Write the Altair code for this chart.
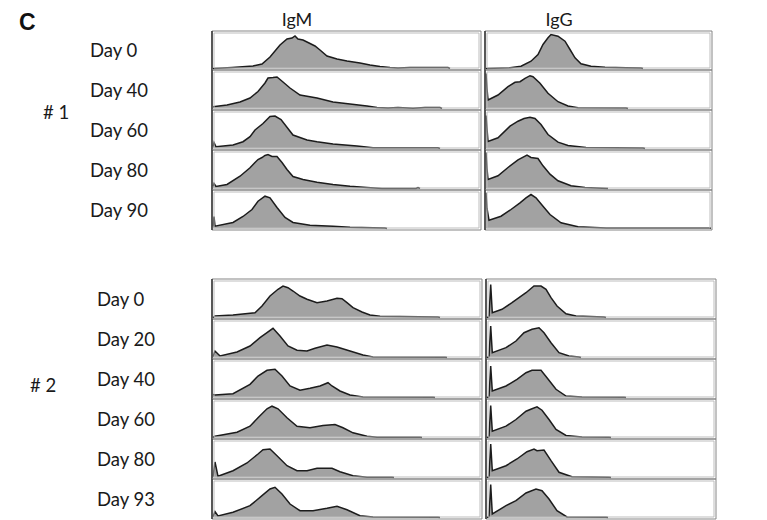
import altair as alt
import pandas as pd

# ---------------- data ----------------
COLUMNS = ["IgM", "IgG"]
G1_DAYS = ["Day 0", "Day 40", "Day 60", "Day 80", "Day 90"]
G2_DAYS = ["Day 0", "Day 20", "Day 40", "Day 60", "Day 80", "Day 93"]

# group #1, IgM  (x: fluorescence channel, y: count, arbitrary units)
G1_IGM_D0_X = [0, 19, 40, 49, 57, 67, 74, 79, 82, 85, 90, 94, 102, 107, 114, 124, 134, 147, 157, 167, 177, 185, 197, 235, 237]
G1_IGM_D0_Y = [0, 1, 2.5, 4.5, 11.5, 23.5, 29.5, 30.5, 32.5, 29.5, 28.5, 26.5, 22.5, 18.5, 12.5, 9.5, 7.5, 5.5, 3.5, 2, 1, 0.4, 0.9, 0.9, 0]
G1_IGM_D40_X = [0, 14, 27, 37, 45, 52, 55, 60, 64, 70, 77, 87, 104, 120, 137, 154, 164, 175, 185, 200, 212, 227, 229]
G1_IGM_D40_Y = [1.8, 3.5, 6.5, 10.5, 17, 25.5, 30.5, 31, 31.5, 26.5, 20.5, 13.5, 10.5, 6.5, 4.5, 2.5, 1, 0.4, 0.9, 0.3, 0.9, 0.9, 0]
G1_IGM_D60_X = [0, 1, 3, 20, 30, 37, 42, 50, 57, 62, 68, 80, 94, 104, 120, 144, 160, 190, 225, 227]
G1_IGM_D60_Y = [2, 6, 1.8, 3.5, 6.8, 11.8, 18.5, 25, 32, 32.5, 29, 13.5, 8.5, 6.8, 4.5, 2.5, 0.8, 0.8, 0.8, 0]
G1_IGM_D80_X = [0, 1, 3, 14, 27, 37, 42, 45, 49, 52, 55, 59, 64, 69, 74, 80, 90, 104, 120, 137, 154, 169, 203, 205, 207]
G1_IGM_D80_Y = [2.3, 5, 2, 4, 12.3, 20.7, 26, 29, 31, 33, 34, 32, 32, 26, 19, 12, 9, 6.3, 4, 2.3, 1, 0, 0, 1, 0]
G1_IGM_D90_X = [0, 1, 2, 20, 30, 39, 45, 52, 57, 64, 72, 80, 97, 120, 137, 160, 172, 174]
G1_IGM_D90_Y = [2, 12, 2.3, 6, 12, 19, 27.3, 32.3, 30.7, 21, 11, 6, 3.3, 2.3, 1.3, 0.7, 0.5, 0]

# group #1, IgG
G1_IGG_D0_X = [0, 24, 35, 45, 52, 57, 62, 65, 72, 79, 84, 89, 95, 105, 119, 140, 155, 157]
G1_IGG_D0_Y = [0, 0.7, 2.3, 7.3, 14, 24, 30.7, 34, 32.3, 27.3, 19, 10.7, 4.7, 2.3, 1.3, 0.8, 0.5, 0]
G1_IGG_D40_X = [0, 1, 2, 12, 22, 29, 34, 39, 44, 47, 54, 62, 72, 82, 92, 140, 142]
G1_IGG_D40_Y = [35, 20, 8.5, 13.5, 21.8, 26.2, 26.8, 30.2, 32.8, 31.8, 25.2, 15.2, 6.8, 2.5, 0.8, 0.5, 0]
G1_IGG_D60_X = [0, 1, 2, 12, 24, 32, 38, 44, 49, 55, 62, 72, 82, 100, 157, 159]
G1_IGG_D60_Y = [33, 20, 7, 10.7, 22.3, 27.3, 30, 31.3, 30, 24, 14, 6.3, 3, 1, 0.5, 0]
G1_IGG_D80_X = [0, 1, 2, 12, 22, 32, 41, 45, 52, 57, 64, 72, 85, 99, 122]
G1_IGG_D80_Y = [36, 20, 9, 12.7, 21, 28.7, 33.3, 31, 30, 22.7, 14.3, 7.7, 2.7, 1, 0]
G1_IGG_D90_X = [0, 1, 3, 15, 25, 34, 40, 45, 50, 57, 64, 75, 92, 120, 155, 225]
G1_IGG_D90_Y = [35.7, 20, 8.3, 12.3, 19, 25.7, 30.7, 34, 30.7, 22.3, 14, 5.7, 1.7, 0.6, 0.5, 0.5]

# group #2, IgM
G2_IGM_D0_X = [0, 2, 20, 42, 49, 57, 65, 70, 75, 80, 87, 94, 104, 114, 124, 129, 134, 140, 149, 157, 167, 225, 227]
G2_IGM_D0_Y = [0, 1.5, 2.5, 4.8, 11.5, 21.5, 28.2, 31.5, 29.8, 26.5, 21.5, 18.2, 14.8, 16.5, 19.2, 18.8, 14.8, 9.8, 5.5, 2.5, 1.2, 0.5, 0]
G2_IGM_D20_X = [0, 2, 7, 24, 37, 47, 54, 60, 67, 75, 84, 94, 102, 114, 124, 137, 150, 160, 232, 234]
G2_IGM_D20_Y = [1, 6.5, 1.5, 5.5, 11.5, 19.8, 24.8, 29.2, 21.5, 11.5, 7.2, 6.5, 9.2, 12.5, 10.5, 6.5, 2.5, 0.5, 0.3, 0]
G2_IGM_D40_X = [0, 2, 20, 37, 45, 54, 62, 69, 77, 87, 97, 107, 115, 119, 127, 137, 150, 220, 222]
G2_IGM_D40_Y = [3, 2.5, 3.8, 13.2, 21.5, 27.2, 28.2, 21.5, 11.5, 7.2, 9.2, 11.5, 14.8, 11.5, 6.5, 2.5, 0.5, 0.3, 0]
G2_IGM_D60_X = [0, 2, 24, 37, 45, 54, 59, 65, 74, 84, 97, 110, 122, 130, 140, 154, 164, 207, 209]
G2_IGM_D60_Y = [0.5, 1.3, 5.3, 11.3, 19.7, 28.7, 31.3, 28.7, 19.7, 11.3, 9.7, 12, 13, 9.7, 4.7, 1.3, 0.3, 0.3, 0]
G2_IGM_D80_X = [0, 2, 5, 20, 34, 45, 50, 57, 64, 74, 84, 94, 104, 119, 127, 140, 154, 179, 181]
G2_IGM_D80_Y = [1, 15.5, 1.2, 6.8, 14.5, 23.5, 27.8, 28.5, 21.8, 11.8, 6.8, 6.8, 9.2, 9.2, 5.8, 1.8, 0.3, 0.2, 0]
G2_IGM_D93_X = [0, 2, 5, 20, 37, 49, 57, 62, 69, 77, 87, 100, 114, 124, 134, 147, 160, 225, 227]
G2_IGM_D93_Y = [1, 6, 1.5, 5.2, 11.8, 21.8, 28.5, 30.2, 23.5, 13.5, 6.8, 6.8, 9.2, 11.2, 7.8, 1.8, 0.5, 0.3, 0]

# group #2, IgG
G2_IGG_D0_X = [0, 2, 3.7, 5.3, 15, 25, 32, 39, 47, 54, 59, 64, 70, 79, 89, 117, 119]
G2_IGG_D0_Y = [0, 1, 33, 4.8, 8.2, 14.8, 19.8, 24.8, 31.5, 31.5, 28.2, 19.8, 11.5, 3.8, 1.5, 0.5, 0]
G2_IGG_D20_X = [0, 2, 3.7, 5.3, 19, 29, 37, 45, 52, 57, 64, 72, 82, 92, 94]
G2_IGG_D20_Y = [0, 1, 31.5, 4.8, 9.8, 16.5, 24.8, 28.2, 29.8, 24.8, 14.8, 4.8, 1.5, 0.5, 0]
G2_IGG_D40_X = [0, 2, 3.7, 5.3, 19, 30, 39, 45, 54, 60, 69, 79, 95, 137, 139]
G2_IGG_D40_Y = [0, 1, 31.5, 6.5, 11.5, 18.2, 24.8, 27.2, 27.2, 19.8, 8.2, 1.5, 0.5, 0.3, 0]
G2_IGG_D60_X = [0, 2, 3.7, 5.3, 19, 29, 39, 45, 50, 55, 62, 69, 79, 95, 122, 124]
G2_IGG_D60_Y = [0, 1, 32, 6.3, 11.3, 18, 26.3, 28.7, 30.7, 27.3, 18, 8, 2, 0.5, 0.3, 0]
G2_IGG_D80_X = [0, 2, 3.7, 5.3, 19, 30, 40, 47, 50, 57, 64, 72, 85, 122, 124]
G2_IGG_D80_Y = [0, 1, 33.5, 6.8, 11.8, 18.5, 25.8, 28.5, 26.8, 27.5, 16.8, 5.2, 0.8, 0.3, 0]
G2_IGG_D93_X = [0, 2, 3.7, 5.3, 19, 29, 39, 49, 55, 62, 70, 80, 119, 121]
G2_IGG_D93_Y = [0, 1, 33, 3.5, 11.8, 16.8, 24.5, 28.5, 26.8, 18.5, 6.8, 0.5, 0.3, 0]

G1_IGM = [(G1_IGM_D0_X, G1_IGM_D0_Y), (G1_IGM_D40_X, G1_IGM_D40_Y), (G1_IGM_D60_X, G1_IGM_D60_Y),
          (G1_IGM_D80_X, G1_IGM_D80_Y), (G1_IGM_D90_X, G1_IGM_D90_Y)]
G1_IGG = [(G1_IGG_D0_X, G1_IGG_D0_Y), (G1_IGG_D40_X, G1_IGG_D40_Y), (G1_IGG_D60_X, G1_IGG_D60_Y),
          (G1_IGG_D80_X, G1_IGG_D80_Y), (G1_IGG_D90_X, G1_IGG_D90_Y)]
G2_IGM = [(G2_IGM_D0_X, G2_IGM_D0_Y), (G2_IGM_D20_X, G2_IGM_D20_Y), (G2_IGM_D40_X, G2_IGM_D40_Y),
          (G2_IGM_D60_X, G2_IGM_D60_Y), (G2_IGM_D80_X, G2_IGM_D80_Y), (G2_IGM_D93_X, G2_IGM_D93_Y)]
G2_IGG = [(G2_IGG_D0_X, G2_IGG_D0_Y), (G2_IGG_D20_X, G2_IGG_D20_Y), (G2_IGG_D40_X, G2_IGG_D40_Y),
          (G2_IGG_D60_X, G2_IGG_D60_Y), (G2_IGG_D80_X, G2_IGG_D80_Y), (G2_IGG_D93_X, G2_IGG_D93_Y)]

# ---------------- layout (page pixels) ----------------
OFF = 8  # page margin
G1_TOPS = [31, 70, 110, 150, 190]
G1_BOTS = [70, 110, 150, 190, 230]
G2_TOPS = [279, 319, 359, 399, 439, 479]
G2_BOTS = [319, 359, 399, 439, 479, 519]
G1_IGM_LR = (212, 481)
G1_IGG_LR = (485, 712)
G2_IGM_LR = (212, 482)
G2_IGG_LR = (486, 716)

FILL = "#a2a2a2"
LINE = "#1c1c1c"
TXT = "#1a1a1a"
FONT = "Lato"

one = pd.DataFrame({"k": [0]})


def panel(xs, ys, lr, T, B):
    L, R = lr
    W, H = R - L, B - T
    sx = alt.Scale(domain=[-1, W - 1], range=[L - OFF, R - OFF], nice=False, zero=False)
    sy = alt.Scale(domain=[-1.5, H - 1.5], range=[B - OFF, T - OFF], nice=False, zero=False)
    df = pd.DataFrame({"x": xs, "y": ys})
    area = alt.Chart(df).mark_area(
        color=FILL, opacity=1, interpolate="linear",
        line={"color": LINE, "strokeWidth": 1.5},
    ).encode(
        x=alt.X("x:Q", scale=sx, axis=None),
        y=alt.Y("y:Q", scale=sy, axis=None),
        y2=alt.Y2Datum(0),
    )
    outer = alt.Chart(one).mark_rect(fillOpacity=0, stroke="#858585", strokeWidth=1).encode(
        x=alt.XDatum(-1, type="quantitative", scale=sx, axis=None),
        x2=alt.X2Datum(W - 1),
        y=alt.YDatum(-1.5, type="quantitative", scale=sy, axis=None),
        y2=alt.Y2Datum(H - 1.5),
    )
    inner = alt.Chart(one).mark_rect(fillOpacity=0, stroke="#bdbdbd", strokeWidth=1).encode(
        x=alt.XDatum(1, type="quantitative", scale=sx, axis=None),
        x2=alt.X2Datum(W - 3),
        y=alt.YDatum(0.5, type="quantitative", scale=sy, axis=None),
        y2=alt.Y2Datum(H - 3.5),
    )
    left = alt.Chart(one).mark_rule(color="#3c3c3c", strokeWidth=1.6).encode(
        x=alt.XDatum(-1, type="quantitative", scale=sx, axis=None),
        y=alt.YDatum(-1.5, type="quantitative", scale=sy, axis=None),
        y2=alt.Y2Datum(H - 1.5),
    )
    return alt.layer(area, outer, inner, left)


panels = []
for i in range(5):
    panels.append(panel(*G1_IGM[i], G1_IGM_LR, G1_TOPS[i], G1_BOTS[i]))
    panels.append(panel(*G1_IGG[i], G1_IGG_LR, G1_TOPS[i], G1_BOTS[i]))
for i in range(6):
    panels.append(panel(*G2_IGM[i], G2_IGM_LR, G2_TOPS[i], G2_BOTS[i]))
    panels.append(panel(*G2_IGG[i], G2_IGG_LR, G2_TOPS[i], G2_BOTS[i]))

# ---------------- text ----------------
lab_rows = []
for i, d in enumerate(G1_DAYS):
    lab_rows.append({"t": d, "px": 90 - OFF, "py": (G1_TOPS[i] + G1_BOTS[i]) / 2 + 6.5 - OFF})
for i, d in enumerate(G2_DAYS):
    lab_rows.append({"t": d, "px": 97 - OFF, "py": (G2_TOPS[i] + G2_BOTS[i]) / 2 + 7 - OFF})
lab_rows.append({"t": "# 1", "px": 43 - OFF, "py": 119 - OFF})
lab_rows.append({"t": "# 2", "px": 30 - OFF, "py": 392 - OFF})
labels = pd.DataFrame(lab_rows)

label_layer = alt.Chart(labels).mark_text(
    align="left", baseline="alphabetic", font=FONT, fontSize=18.5, color=TXT
).encode(
    x=alt.X("px:Q", scale=None, axis=None),
    y=alt.Y("py:Q", scale=None, axis=None),
    text="t:N",
)

heads = pd.DataFrame({
    "t": COLUMNS,
    "px": [297 - OFF, 559 - OFF],
    "py": [26 - OFF, 26 - OFF],
})
head_layer = alt.Chart(heads).mark_text(
    align="center", baseline="alphabetic", font=FONT, fontSize=18, color=TXT
).encode(
    x=alt.X("px:Q", scale=None, axis=None),
    y=alt.Y("py:Q", scale=None, axis=None),
    text="t:N",
)

letter = alt.Chart(pd.DataFrame({"t": ["C"], "px": [19 - OFF], "py": [30 - OFF]})).mark_text(
    align="left", baseline="alphabetic", font="Liberation Sans", fontSize=23, fontWeight="bold", color="#111"
).encode(
    x=alt.X("px:Q", scale=None, axis=None),
    y=alt.Y("py:Q", scale=None, axis=None),
    text="t:N",
)

chart = alt.layer(*panels, label_layer, head_layer, letter).resolve_scale(
    x="independent", y="independent"
).properties(
    width=751, height=512, padding=0,
    autosize=alt.AutoSizeParams(type="none"),
).configure_view(strokeWidth=0)

chart.save("out.html", embed_options={"renderer": "svg", "actions": False})
